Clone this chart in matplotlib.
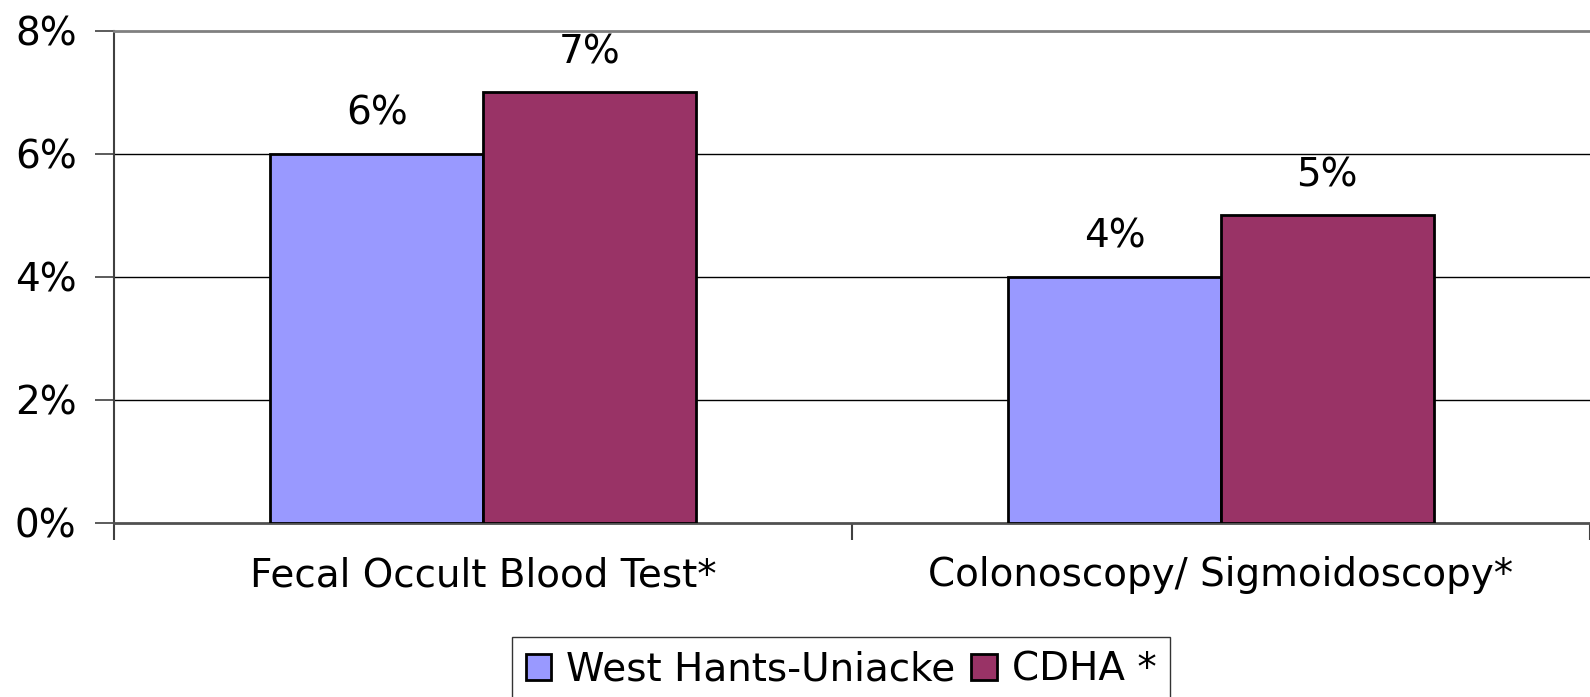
import matplotlib.pyplot as plt
import numpy as np

plt.rcParams['font.family'] = ['DejaVu Sans']

# Data
categories = ['Fecal Occult Blood Test*', 'Colonoscopy/ Sigmoidoscopy*']
series_names = ['West Hants-Uniacke', 'CDHA *']
west_hants = [6, 4]
cdha = [7, 5]
colors = ['#9999FF', '#993366']

fig = plt.figure(figsize=(15.9, 6.97), dpi=100)
ax = fig.add_axes([114 / 1590, 1 - 523 / 697, 1 - 114 / 1590, (523 - 30.5) / 697])

x = np.arange(len(categories))
w = 0.288
bars1 = ax.bar(x - w / 2, west_hants, w, color=colors[0], edgecolor='black',
               linewidth=2, label=series_names[0], zorder=3)
bars2 = ax.bar(x + w / 2, cdha, w, color=colors[1], edgecolor='black',
               linewidth=2, label=series_names[1], zorder=3)

# value labels above bars
for bars in (bars1, bars2):
    for b in bars:
        ax.annotate(f'{b.get_height():g}%', (b.get_x() + b.get_width() / 2, b.get_height()),
                    xytext=(0, 40), textcoords='offset pixels', ha='center', va='center',
                    fontsize=28)

ax.set_ylim(0, 8)
ax.set_yticks([0, 2, 4, 6, 8])
ax.set_yticklabels([f'{v}%' for v in [0, 2, 4, 6, 8]], fontsize=28)
ax.set_xlim(-0.5, -0.5 + (1590 - 114) / 746.7)

# category boundary ticks, labels centered under groups
ax.set_xticks([-0.5, 0.5, 1.5])
ax.set_xticklabels([])
ax.set_xticks(x, minor=True)
ax.set_xticklabels(categories, minor=True, fontsize=28)
ax.tick_params(axis='x', which='minor', length=0, pad=24)
ax.tick_params(axis='x', which='major', length=12, width=1.5, color='#404040')
ax.tick_params(axis='y', length=14, width=1.2, color='#404040', pad=13)

for v in [2, 4, 6]:
    ax.axhline(v, color='black', linewidth=1, zorder=1)

ax.spines['top'].set_color('#808080')
ax.spines['top'].set_linewidth(2)
ax.spines['right'].set_visible(False)
ax.spines['left'].set_color('#404040')
ax.spines['left'].set_linewidth(1.5)
ax.spines['bottom'].set_color('#505050')
ax.spines['bottom'].set_linewidth(2)

leg = fig.legend(loc='upper left', bbox_to_anchor=(512 / 1590, 1 - 637 / 697), ncol=2,
                 fontsize=28, frameon=True, fancybox=False, edgecolor='black',
                 handlelength=0.65, handleheight=0.65, handletextpad=0.4,
                 columnspacing=0.4, borderpad=0.35, borderaxespad=0)
leg.get_frame().set_linewidth(1)

fig.savefig('out.png', dpi=100)
